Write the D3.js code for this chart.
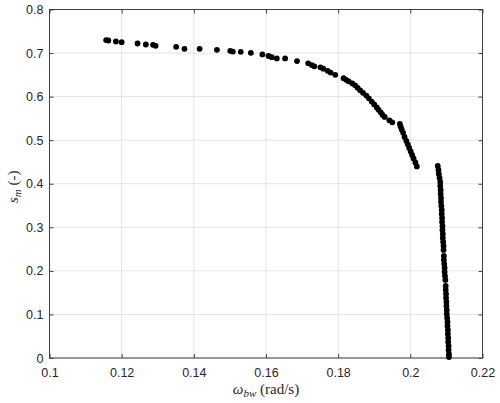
<!DOCTYPE html>
<html>
<head>
<meta charset="utf-8">
<script src="https://cdnjs.cloudflare.com/ajax/libs/d3/7.8.5/d3.min.js"></script>
<style>
  body { margin: 0; background: #fff; }
  .tick text { font-family: "Liberation Sans", Arial, sans-serif; font-size: 12.5px; fill: #262626; }
  .axis-label { font-family: "Liberation Serif", "Times New Roman", serif; fill: #262626; }
</style>
</head>
<body>
<div id="chart"></div>
<script>
// omega_bw (rad/s) and s_m (-)
var omega = [
  0.1157, 0.1163, 0.1184, 0.1200, 0.1244, 0.1267, 0.1287, 0.1294, 0.1351, 0.1374,
  0.1416, 0.1464, 0.1501, 0.1508, 0.1530, 0.1558, 0.1590, 0.1607, 0.1616, 0.1630,
  0.1653, 0.1686, 0.1717, 0.1727, 0.1734, 0.1751, 0.1759, 0.1771, 0.1779, 0.1792,
  0.1815, 0.1822, 0.1829, 0.1839, 0.1847, 0.1854, 0.1861, 0.1869, 0.1878, 0.1885,
  0.1893, 0.1900, 0.1907, 0.1912, 0.1918, 0.1923, 0.1929, 0.1942, 0.1950,
  // steep part
  0.1971, 0.1973, 0.1976, 0.1980, 0.1984, 0.1989, 0.1993, 0.1997, 0.2001, 0.2005,
  0.2009, 0.2014, 0.2018,
  // vertical part
  0.2076, 0.2078, 0.2079, 0.2081, 0.2083, 0.2083, 0.2084, 0.2084, 0.2085, 0.2085,
  0.2086, 0.2087, 0.2087, 0.2088, 0.2088, 0.2089, 0.2089, 0.2090, 0.2090, 0.2091,
  0.2092, 0.2092, 0.2093, 0.2093, 0.2094, 0.2095, 0.2095, 0.2096, 0.2097, 0.2098,
  0.2098, 0.2099, 0.2099, 0.2100, 0.2100, 0.2101, 0.2101, 0.2102, 0.2103, 0.2103,
  0.2104, 0.2104, 0.2105, 0.2105, 0.2106, 0.2106, 0.2107, 0.2107
];
var sm = [
  0.7297, 0.7288, 0.7265, 0.7251, 0.7219, 0.7196, 0.7189, 0.7166, 0.7143, 0.7097,
  0.7097, 0.7074, 0.7051, 0.7035, 0.7028, 0.7005, 0.6968, 0.6932, 0.6906, 0.6877,
  0.6877, 0.6817, 0.6764, 0.6725, 0.6695, 0.6672, 0.6642, 0.6592, 0.6551, 0.6500,
  0.6424, 0.6385, 0.6351, 0.6305, 0.6259, 0.6201, 0.6144, 0.6087, 0.6025, 0.5960,
  0.5887, 0.5822, 0.5753, 0.5696, 0.5639, 0.5581, 0.5535, 0.5455, 0.5409,
  0.5375, 0.5317, 0.5248, 0.5168, 0.5076, 0.4984, 0.4904, 0.4823, 0.4743, 0.4662,
  0.4582, 0.4490, 0.4398,
  0.4410, 0.4318, 0.4226, 0.4134, 0.4042, 0.3950, 0.3859, 0.3767, 0.3675, 0.3583,
  0.3491, 0.3399, 0.3307, 0.3216, 0.3124, 0.3032, 0.2940, 0.2848, 0.2756, 0.2664,
  0.2572, 0.2481, 0.2343, 0.2251, 0.2159, 0.2067, 0.1975, 0.1883, 0.1792, 0.1654,
  0.1562, 0.1470, 0.1378, 0.1286, 0.1194, 0.1102, 0.1011, 0.0919, 0.0827, 0.0735,
  0.0643, 0.0551, 0.0459, 0.0367, 0.0276, 0.0184, 0.0092, 0.0023
];

var xTicks = [0.1, 0.12, 0.14, 0.16, 0.18, 0.2, 0.22];
var xTickLabels = ['0.1', '0.12', '0.14', '0.16', '0.18', '0.2', '0.22'];
var yTicks = [0, 0.1, 0.2, 0.3, 0.4, 0.5, 0.6, 0.7, 0.8];
var yTickLabels = ['0', '0.1', '0.2', '0.3', '0.4', '0.5', '0.6', '0.7', '0.8'];

var width = 500, height = 403;
var margin = {top: 9.5, right: 17.5, bottom: 45, left: 49.5};
var w = width - margin.left - margin.right,
    h = height - margin.top - margin.bottom;

var svg = d3.select('#chart')
            .append('svg')
            .attr('width', width)
            .attr('height', height);

var g = svg.append('g')
           .attr('transform', 'translate(' + margin.left + ',' + margin.top + ')');

var x = d3.scaleLinear().domain([0.1, 0.22]).range([0, w]);
var y = d3.scaleLinear().domain([0, 0.8]).range([h, 0]);

// grid
g.append('g')
  .selectAll('line.vgrid')
  .data(xTicks)
  .enter().append('line')
  .attr('x1', function(d) { return x(d); })
  .attr('x2', function(d) { return x(d); })
  .attr('y1', 0).attr('y2', h)
  .attr('stroke', '#e3e3e3');

g.append('g')
  .selectAll('line.hgrid')
  .data(yTicks)
  .enter().append('line')
  .attr('y1', function(d) { return y(d); })
  .attr('y2', function(d) { return y(d); })
  .attr('x1', 0).attr('x2', w)
  .attr('stroke', '#e3e3e3');

// axes, ticks pointing inward
function styleAxis(sel) {
  sel.select('.domain').remove();
  sel.selectAll('.tick line').attr('stroke', '#404040');
}

g.append('g')
  .attr('transform', 'translate(0,' + h + ')')
  .call(d3.axisBottom(x).tickValues(xTicks)
          .tickFormat(function(d, i) { return xTickLabels[i]; })
          .tickSizeInner(-4).tickSizeOuter(0).tickPadding(10))
  .call(styleAxis);

g.append('g')
  .call(d3.axisTop(x).tickValues(xTicks).tickFormat('')
          .tickSizeInner(-4).tickSizeOuter(0))
  .call(styleAxis);

g.append('g')
  .call(d3.axisLeft(y).tickValues(yTicks)
          .tickFormat(function(d, i) { return yTickLabels[i]; })
          .tickSizeInner(-4).tickSizeOuter(0).tickPadding(6))
  .call(styleAxis);

g.append('g')
  .attr('transform', 'translate(' + w + ',0)')
  .call(d3.axisRight(y).tickValues(yTicks).tickFormat('')
          .tickSizeInner(-4).tickSizeOuter(0))
  .call(styleAxis);

g.selectAll('.tick text').attr('font-family', null).attr('font-size', null);

// box
g.append('rect')
  .attr('x', 0).attr('y', 0)
  .attr('width', w).attr('height', h)
  .attr('fill', 'none')
  .attr('stroke', '#404040');

// points
g.append('g')
  .selectAll('circle')
  .data(omega)
  .enter().append('circle')
  .attr('cx', function(d) { return x(d); })
  .attr('cy', function(d, i) { return y(sm[i]); })
  .attr('r', 2.9)
  .attr('fill', '#000');

// x label
var xl = svg.append('text')
  .attr('class', 'axis-label')
  .attr('x', margin.left + w / 2)
  .attr('y', 394)
  .attr('text-anchor', 'middle')
  .attr('font-size', 15);
xl.append('tspan').attr('font-style', 'italic').text('ω');
xl.append('tspan').attr('font-style', 'italic').attr('font-size', 11).attr('dy', 3).text('bw');
xl.append('tspan').attr('dy', -3).text(' (rad/s)');

// y label
var yl = svg.append('text')
  .attr('class', 'axis-label')
  .attr('transform', 'translate(18,' + (margin.top + h / 2 + 3) + ') rotate(-90)')
  .attr('text-anchor', 'middle')
  .attr('font-size', 15);
yl.append('tspan').attr('font-style', 'italic').text('s');
yl.append('tspan').attr('font-style', 'italic').attr('font-size', 11).attr('dy', 3).text('m');
yl.append('tspan').attr('dy', -3).text(' (-)');
</script>
</body>
</html>
